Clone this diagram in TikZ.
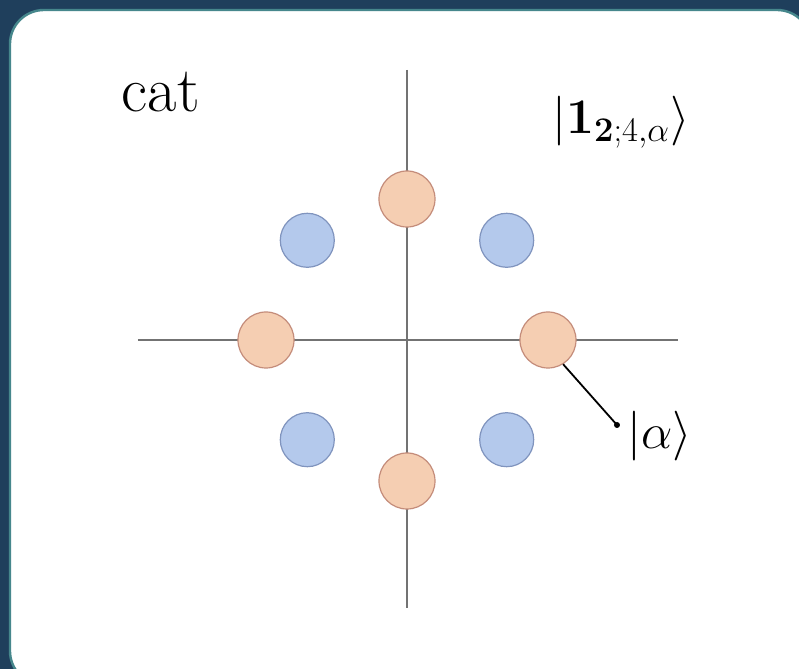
\documentclass[tikz,border=0pt]{standalone}
\usepackage{amsmath}
\definecolor{navy}{RGB}{31,63,92}
\definecolor{edge}{RGB}{70,135,140}
\definecolor{peach}{RGB}{245,206,178}
\definecolor{peachline}{RGB}{196,140,122}
\definecolor{sky}{RGB}{180,201,236}
\definecolor{skyline}{RGB}{128,148,190}
\definecolor{axisgray}{RGB}{115,115,115}
\tikzset{
  orangedot/.style={circle, fill=peach, draw=peachline, line width=0.6pt, minimum size=28pt, inner sep=0pt},
  bluedot/.style={circle, fill=sky, draw=skyline, line width=0.6pt, minimum size=27pt, inner sep=0pt},
  axisline/.style={draw=axisgray, line width=1pt}
}
\begin{document}
\begin{tikzpicture}[x=0.5pt, y=0.5pt]
    \useasboundingbox (-407,-329) rectangle (392,340);
    % Frame
    \fill[navy] (-407,-329) rectangle (392,340);
    \begin{scope}
      \clip (-407,-329) rectangle (392,340);
      \filldraw[fill=white, draw=edge, line width=1.2pt, rounded corners=17pt] (-397,-345) rectangle (404,330);
    \end{scope}

    % Axes
    \coordinate (xl) at (-269,0);
    \coordinate (xr) at (271,0);
    \coordinate (yb) at (0,-268);
    \coordinate (yt) at (0,270);
    \draw[axisline] (xl) -- (xr);
    \draw[axisline] (yt) -- (yb);

    % Coherent states
    \foreach \a/\n in {0/r, 90/t, 180/l, 270/b}
      \node[orangedot] (\n) at (\a:141) {};
    \foreach \a/\n in {45/tr, 135/tl, 225/bl, 315/br}
      \node[bluedot] (\n) at (\a:141) {};

    % Pointer to |alpha>
    \coordinate (tip) at (210,-85);
    \draw[line width=0.9pt] (r.-58) -- (tip);
    \fill (tip) circle (3);
    \node[anchor=west, inner sep=0pt, font=\fontsize{33}{40}\selectfont] (alpha) at (220,-96) {$|\alpha\rangle$};

    % Labels
    \node[anchor=base, inner sep=0pt, font=\fontsize{32}{38}\selectfont] (cat) at (-246,228) {cat};
    \node[inner sep=0pt, font=\fontsize{23}{28}\selectfont] (state) at (214,218) {$|\mathbf{1}_{\mathbf{2};4,\alpha}\rangle$};
\end{tikzpicture}
\end{document}
